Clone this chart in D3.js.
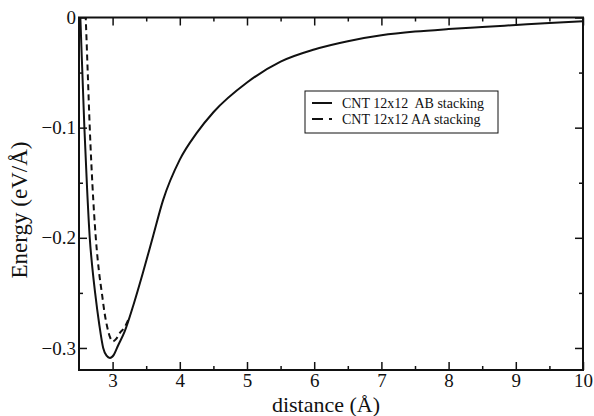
<!DOCTYPE html>
<html>
<head>
<meta charset="utf-8">
<script src="https://cdn.jsdelivr.net/npm/d3@7"></script>
<style>
  html, body { margin: 0; padding: 0; background: #fff; }
  svg { display: block; }
  text { font-family: "Liberation Serif", "DejaVu Serif", serif; fill: #111; }
</style>
</head>
<body>
<svg id="chart" width="594" height="416"></svg>
<script>
// Interlayer binding energy versus tube separation for a 12x12 CNT pair
const abDistance = [2.50, 2.52, 2.55, 2.58, 2.62, 2.66, 2.70, 2.74, 2.80, 2.86, 2.91, 2.96, 3.02, 3.08, 3.18, 3.31, 3.45, 3.60, 3.75, 4.0, 4.25, 4.5, 5.0, 5.5, 6.0, 6.5, 7.0, 7.5, 8.0, 8.5, 9.0, 9.5, 10.0];
const abEnergy   = [0.04, 0.00, -0.05, -0.10, -0.155, -0.20, -0.228, -0.25, -0.278, -0.30, -0.307, -0.309, -0.306, -0.298, -0.285, -0.261, -0.232, -0.199, -0.166, -0.129, -0.105, -0.086, -0.059, -0.040, -0.029, -0.0215, -0.0162, -0.0128, -0.0105, -0.0086, -0.0068, -0.0050, -0.0033];

const aaDistance = [2.58, 2.60, 2.63, 2.66, 2.70, 2.75, 2.80, 2.84, 2.88, 2.92, 2.96, 3.00, 3.05, 3.10, 3.18, 3.25];
const aaEnergy   = [0.03, 0.00, -0.05, -0.10, -0.152, -0.20, -0.232, -0.25, -0.268, -0.281, -0.290, -0.294, -0.292, -0.287, -0.281, -0.272];

const xMajorTicks = [3, 4, 5, 6, 7, 8, 9, 10];
const xMinorTicks = [3.5, 4.5, 5.5, 6.5, 7.5, 8.5, 9.5];
const yMajorTicks = [0, -0.1, -0.2, -0.3];
const yTickLabels = ["0", "\u22120.1", "\u22120.2", "\u22120.3"];
const yMinorTicks = [-0.05, -0.15, -0.25];

const legendLabels = ["CNT 12x12  AB stacking", "CNT 12x12 AA stacking"];

const serif = "'Liberation Serif', 'DejaVu Serif', serif";
const svg = d3.select("#chart");
const plotLeft = 79, plotRight = 583, plotTop = 17.5, plotBottom = 370;

const x = d3.scaleLinear().domain([2.5, 10]).range([plotLeft, plotRight]);
const y = d3.scaleLinear().domain([-0.32, 0]).range([plotBottom, plotTop]);

svg.append("defs").append("clipPath").attr("id", "plotClip")
  .append("rect").attr("x", plotLeft).attr("y", plotTop)
  .attr("width", plotRight - plotLeft).attr("height", plotBottom - plotTop);

// Curves
const line = d3.line().x(d => x(d[0])).y(d => y(d[1])).curve(d3.curveMonotoneX);
const curves = svg.append("g").attr("clip-path", "url(#plotClip)");

curves.append("path")
  .datum(d3.zip(abDistance, abEnergy))
  .attr("d", line)
  .attr("fill", "none").attr("stroke", "#111").attr("stroke-width", 2);

curves.append("path")
  .datum(d3.zip(aaDistance, aaEnergy))
  .attr("d", line)
  .attr("fill", "none").attr("stroke", "#111").attr("stroke-width", 2)
  .attr("stroke-dasharray", "6,4");

// Axes with inward ticks on all four sides
function styleAxis(g) {
  g.attr("font-family", null);
  g.select(".domain").remove();
  g.selectAll(".tick line").attr("stroke", "#111").attr("stroke-width", 1.5);
  g.selectAll("text").attr("fill", "#111")
    .style("font-family", serif).style("font-size", "19px");
}

svg.append("g").attr("transform", `translate(0,${plotBottom})`)
  .call(d3.axisBottom(x).tickValues(xMajorTicks).tickSize(-8).tickPadding(4).tickFormat(d3.format("d")))
  .call(styleAxis);
svg.append("g").attr("transform", `translate(0,${plotBottom})`)
  .call(d3.axisBottom(x).tickValues(xMinorTicks).tickSize(-4).tickFormat(""))
  .call(styleAxis);
svg.append("g").attr("transform", `translate(0,${plotTop})`)
  .call(d3.axisTop(x).tickValues(xMajorTicks).tickSize(-8).tickFormat(""))
  .call(styleAxis);
svg.append("g").attr("transform", `translate(0,${plotTop})`)
  .call(d3.axisTop(x).tickValues(xMinorTicks).tickSize(-4).tickFormat(""))
  .call(styleAxis);

svg.append("g").attr("transform", `translate(${plotLeft},0)`)
  .call(d3.axisLeft(y).tickValues(yMajorTicks).tickSize(-8).tickPadding(3)
    .tickFormat((d, i) => yTickLabels[i]))
  .call(styleAxis);
svg.append("g").attr("transform", `translate(${plotLeft},0)`)
  .call(d3.axisLeft(y).tickValues(yMinorTicks).tickSize(-4).tickFormat(""))
  .call(styleAxis);
svg.append("g").attr("transform", `translate(${plotRight},0)`)
  .call(d3.axisRight(y).tickValues(yMajorTicks).tickSize(-8).tickFormat(""))
  .call(styleAxis);
svg.append("g").attr("transform", `translate(${plotRight},0)`)
  .call(d3.axisRight(y).tickValues(yMinorTicks).tickSize(-4).tickFormat(""))
  .call(styleAxis);

// Frame
svg.append("rect")
  .attr("x", plotLeft).attr("y", plotTop)
  .attr("width", plotRight - plotLeft).attr("height", plotBottom - plotTop)
  .attr("fill", "none").attr("stroke", "#111").attr("stroke-width", 2);

// Axis titles
svg.append("text")
  .attr("x", 326).attr("y", 412)
  .attr("text-anchor", "middle")
  .style("font-family", serif).style("font-size", "22px")
  .text("distance (\u00C5)");

svg.append("text")
  .attr("transform", "translate(27,210) rotate(-90)")
  .attr("text-anchor", "middle")
  .style("font-family", serif).style("font-size", "23px")
  .text("Energy (eV/\u00C5)");

// Legend
const legend = svg.append("g").attr("transform", "translate(305,91)");
legend.append("rect").attr("width", 193).attr("height", 42)
  .attr("fill", "#fff").attr("stroke", "#111").attr("stroke-width", 1);
const dashes = [null, "11,6,3,20"];
legendLabels.forEach((label, i) => {
  const ly = 12 + i * 16;
  legend.append("line").attr("x1", 7).attr("x2", 27).attr("y1", ly).attr("y2", ly)
    .attr("stroke", "#111").attr("stroke-width", 2)
    .attr("stroke-dasharray", dashes[i]);
  legend.append("text").attr("x", 37).attr("y", ly + 4.5)
    .style("font-family", serif).style("font-size", "14px")
    .style("white-space", "pre")
    .text(label);
});
</script>
</body>
</html>
